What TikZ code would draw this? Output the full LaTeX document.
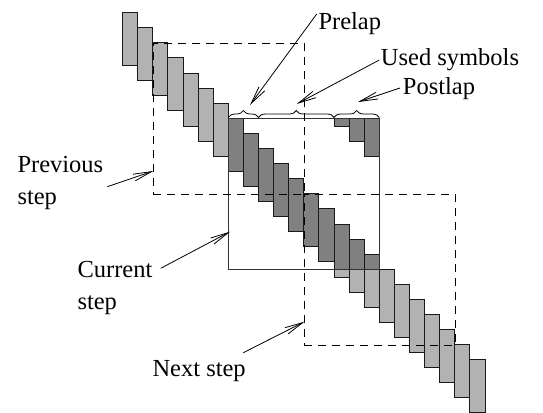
\documentclass[tikz,border=0pt]{standalone}
\usepackage{fontspec}
\setmainfont{Liberation Serif}
\usetikzlibrary{arrows.meta,decorations.pathreplacing}
\definecolor{lightbar}{gray}{0.70}
\definecolor{darkbar}{gray}{0.50}
\tikzset{
  lbl/.style={inner sep=0pt, anchor=base west, align=left, font=\fontsize{24.5}{32}\selectfont},
  barL/.style={fill=lightbar, draw=black!90, line width=0.9pt},
  barD/.style={fill=darkbar, draw=black!90, line width=0.9pt},
  stepbox/.style={draw=black!80, line width=0.9pt},
  dashbox/.style={draw=black, dash pattern=on 8pt off 6pt, line width=0.9pt},
  lapbrace/.style={decorate, decoration={brace, amplitude=7pt}, line width=0.8pt},
  pointer/.style={-{Straight Barb[length=18pt,width=7pt]}, line width=0.8pt}
}
\begin{document}
\begin{tikzpicture}[x=1pt,y=-1pt]
\useasboundingbox (0,0) rectangle (543,412);
\def\xo{228.3}\def\yo{118.3}\def\st{15.1}
% light bars
\foreach \i in {-7,...,16}{
  \path[barL] ({\xo+\st*\i},{\yo+\st*\i}) rectangle ++(\st,53);
}
% dark parts inside current step
\begin{scope}
  \clip (\xo,\yo) rectangle ++(151,151);
  \foreach \i in {0,...,9}{
    \path[barD] ({\xo+\st*\i},{\yo+\st*\i}) rectangle ++(\st,53);
  }
  \foreach \i in {7,8,9}{
    \path[barD] ({\xo+\st*\i},{\yo+\st*\i-151}) rectangle ++(\st,53);
  }
\end{scope}
% boxes
\node[stepbox, inner sep=0pt, minimum size=151pt, anchor=north west] (cur) at (\xo,\yo) {};
\node[dashbox, inner sep=0pt, minimum size=151pt, anchor=north west] (prev) at (152.8,42.8) {};
\node[dashbox, inner sep=0pt, minimum size=151pt, anchor=north west] (next) at (303.8,193.8) {};
% braces
\coordinate (b0) at (228.3,117.5);
\coordinate (b1) at (258.5,117.5);
\coordinate (b2) at (334,117.5);
\coordinate (b3) at (379.3,117.5);
\draw[lapbrace] (b0) -- (b1);
\draw[lapbrace] (b1) -- (b2);
\draw[lapbrace] (b2) -- (b3);
% labels
\node[lbl] (prelap) at (318.3,29.3) {Prelap};
\node[lbl] (used) at (380.7,65) {Used symbols};
\node[lbl] (postlap) at (402.7,94.3) {Postlap};
\node[lbl] (prevl) at (17.3,204.3) {Previous\\step};
\node[lbl] (curl) at (77.3,309.7) {Current\\step};
\node[lbl] (nextl) at (152.3,376.7) {Next step};
% arrow ends
\coordinate (pS) at (316.7,14);   \coordinate (pT) at (250,105);
\coordinate (uS) at (379.3,60);   \coordinate (uT) at (296.7,104);
\coordinate (qS) at (400,88);     \coordinate (qT) at (358,102);
\coordinate (vS) at (107.3,186.7);\coordinate (vT) at (153.3,171);
\coordinate (cS) at (160.7,268.3);\coordinate (cT) at (230,231.7);
\coordinate (nS) at (243.3,352.7);\coordinate (nT) at (304.5,321.7);
\draw[pointer] (pS) -- (pT);
\draw[pointer] (uS) -- (uT);
\draw[pointer] (qS) -- (qT);
\draw[pointer] (vS) -- (vT);
\draw[pointer] (cS) -- (cT);
\draw[pointer] (nS) -- (nT);
\end{tikzpicture}
\end{document}
